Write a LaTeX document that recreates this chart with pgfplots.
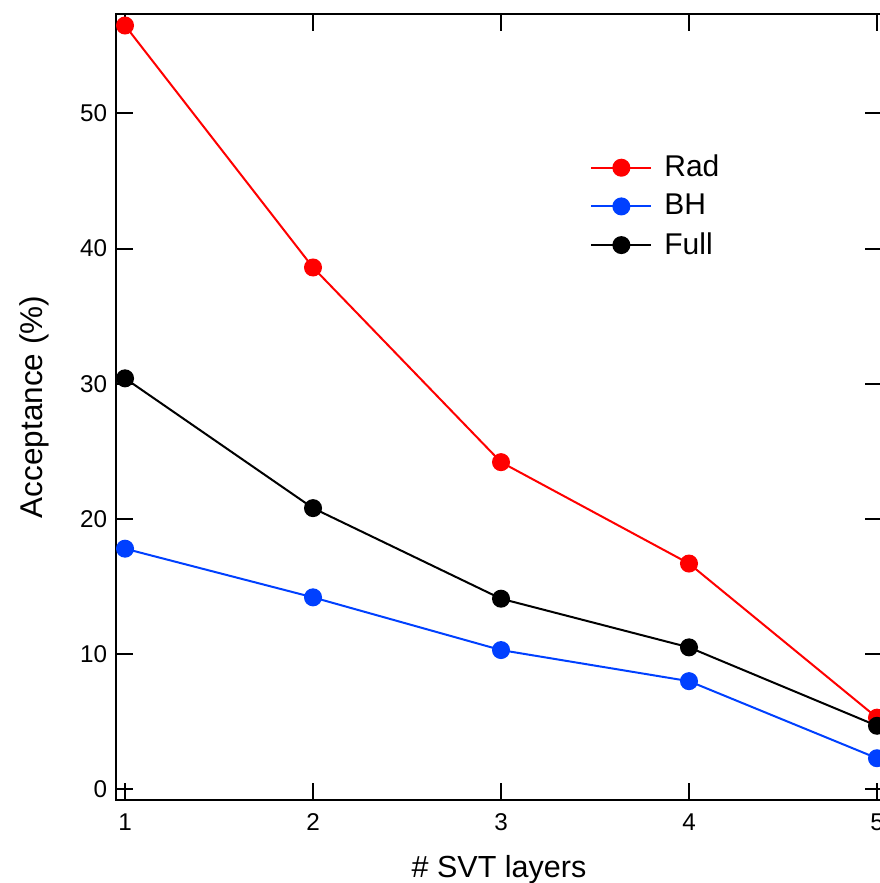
\documentclass[border=0pt]{standalone}
\usepackage{pgfplots}
\pgfplotsset{compat=1.18}
\usepackage{fontspec}
\setmainfont{Liberation Sans}

\definecolor{radred}{RGB}{255,0,0}
\definecolor{bhblue}{RGB}{0,64,255}

\begin{document}
\begin{tikzpicture}
\begin{axis}[
    width=306.4pt, height=314.4pt, scale only axis,
    xmin=0.952, xmax=5.0266, ymin=-0.79, ymax=57.35,
    xtick={1,2,3,4,5}, ytick={0,10,20,30,40,50},
    tick align=inside, major tick length=6.8pt,
    axis line style={line width=1pt},
    every tick/.style={line width=0.8pt, black},
    ticklabel style={font=\fontsize{9.7}{11}\selectfont},
    xticklabel style={yshift=-2pt},
    /pgf/number format/assume math mode=true,
    xlabel={\# SVT layers}, ylabel={Acceptance (\%)},
    xlabel style={font=\fontsize{12.2}{14}\selectfont, at={(axis description cs:0.5,-0.098)}, anchor=base},
    ylabel style={font=\fontsize{12.6}{14}\selectfont, at={(axis description cs:-0.0953,0.5)}, anchor=base},
    legend style={draw=none, fill=none, at={(0.609,0.834)}, anchor=north west,
        font=\fontsize{12}{14}\selectfont, row sep=1.5pt},
    legend cell align=left,
    legend image code/.code={%
        \draw[mark repeat=2,mark phase=2] plot coordinates {(0cm,0cm) (0.42cm,0cm) (0.84cm,0cm)};
        \path (0.94cm,0cm);},
    every axis plot/.append style={line width=0.8pt, mark=*, mark size=3.2pt},
    clip=false,
]
\addplot[color=radred, mark options={fill=radred}] coordinates {(1,56.5) (2,38.6) (3,24.2) (4,16.7) (5,5.3)};
\addlegendentry{Rad}
\addplot[color=bhblue, mark options={fill=bhblue}] coordinates {(1,17.8) (2,14.2) (3,10.3) (4,8.0) (5,2.3)};
\addlegendentry{BH}
\addplot[color=black, mark options={fill=black}] coordinates {(1,30.4) (2,20.8) (3,14.1) (4,10.5) (5,4.7)};
\addlegendentry{Full}
\end{axis}
% page size as in the reference: 116px left, 14px top, 83px bottom at 0.4pt per px; right axis line cut off
\pgfresetboundingbox
\path ([xshift=-46.4pt,yshift=-33.2pt]current axis.south west) rectangle ([xshift=-0.8pt,yshift=5.6pt]current axis.north east);
\end{tikzpicture}
\end{document}
